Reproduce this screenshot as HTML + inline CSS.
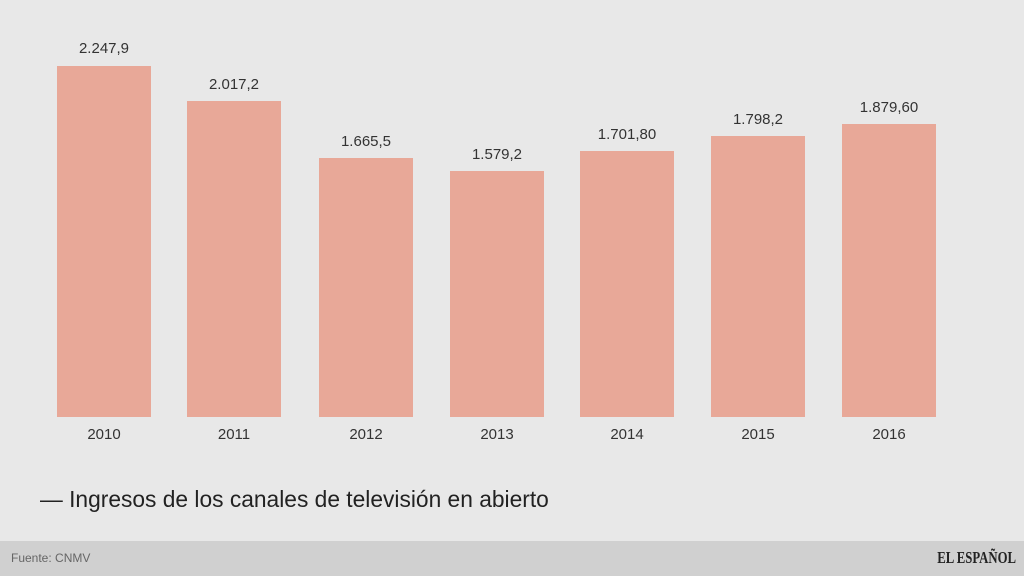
<!DOCTYPE html>
<html><head><meta charset="utf-8"><style>
body{margin:0;width:1024px;height:576px;background:#e8e8e8;position:relative;overflow:hidden;font-family:"Liberation Sans",sans-serif;}
.b{position:absolute;background:#e8a898;width:94px;bottom:159px;}
.v{position:absolute;width:130px;text-align:center;font-size:15px;color:#333;}
.y{position:absolute;top:426px;width:94px;text-align:center;font-size:15px;color:#333;}
</style></head><body>
<div class="b" style="left:57px;top:66px"></div><div class="v" style="left:39px;top:40px">2.247,9</div><div class="y" style="left:57px">2010</div>
<div class="b" style="left:187px;top:101px"></div><div class="v" style="left:169px;top:76px">2.017,2</div><div class="y" style="left:187px">2011</div>
<div class="b" style="left:319px;top:158px"></div><div class="v" style="left:301px;top:133px">1.665,5</div><div class="y" style="left:319px">2012</div>
<div class="b" style="left:450px;top:171px"></div><div class="v" style="left:432px;top:146px">1.579,2</div><div class="y" style="left:450px">2013</div>
<div class="b" style="left:580px;top:151px"></div><div class="v" style="left:562px;top:126px">1.701,80</div><div class="y" style="left:580px">2014</div>
<div class="b" style="left:711px;top:136px"></div><div class="v" style="left:693px;top:111px">1.798,2</div><div class="y" style="left:711px">2015</div>
<div class="b" style="left:842px;top:124px"></div><div class="v" style="left:824px;top:99px">1.879,60</div><div class="y" style="left:842px">2016</div>
<div style="position:absolute;left:40px;top:486px;font-size:23px;color:#222;transform:scaleX(0.99);transform-origin:left;white-space:nowrap;">— Ingresos de los canales de televisión en abierto</div>
<div style="position:absolute;left:0;top:541px;width:1024px;height:35px;background:#d0d0d0;"></div>
<div style="position:absolute;left:11px;top:551px;font-size:12px;color:#666;">Fuente: CNMV</div>
<div style="position:absolute;right:8px;top:548px;font-size:17px;color:#222;font-weight:bold;font-family:'Liberation Serif',serif;transform:scaleX(0.75);transform-origin:right;">EL ESPAÑOL</div>
</body></html>
